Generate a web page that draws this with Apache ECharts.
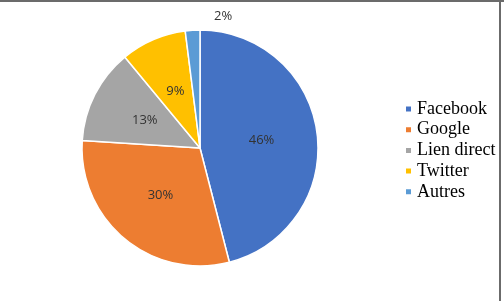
<!DOCTYPE html>
<html>
<head>
<meta charset="utf-8">
<script src="https://cdn.jsdelivr.net/npm/echarts@6/dist/echarts.min.js"></script>
<style>
html,body{margin:0;padding:0;background:#fff;}
#c{width:504px;height:301px;}
</style>
</head>
<body>
<div id="c"></div>
<script>
const categories = ['Facebook', 'Google', 'Lien direct', 'Twitter', 'Autres'];
const values = [46, 30, 13, 9, 2];
const colors = ['#4472C4', '#ED7D31', '#A5A5A5', '#FFC000', '#5B9BD5'];

const chart = echarts.init(document.getElementById('c'), null, {renderer: 'canvas'});
const data = categories.map((name, i) => {
  const d = {name: name, value: values[i], itemStyle: {color: colors[i]}};
  if (i === 4) {
    d.label = {position: 'outside', distance: 4};
    d.labelLine = {show: false, length: 6, length2: 0};
  }
  return d;
});
chart.setOption({
  animation: false,
  backgroundColor: '#fff',
  graphic: [
    {type: 'line', shape: {x1: 0, y1: 1, x2: 504, y2: 1}, style: {stroke: '#6b6b6b', lineWidth: 2}},
    {type: 'line', shape: {x1: 500, y1: 0, x2: 500, y2: 301}, style: {stroke: '#6b6b6b', lineWidth: 2}}
  ],
  legend: {
    orient: 'vertical',
    left: 404,
    top: 100,
    padding: 0,
    itemWidth: 7,
    itemHeight: 7,
    itemGap: 2.7,
    icon: 'rect',
    data: categories,
    textStyle: {fontFamily: 'Liberation Serif', fontSize: 18, color: '#000', padding: [0, 0, 0, 0]}
  },
  series: [{
    type: 'pie',
    center: [200, 148],
    radius: [0, 118],
    startAngle: 90,
    clockwise: true,
    avoidLabelOverlap: false,
    itemStyle: {borderColor: '#fff', borderWidth: 1.5},
    label: {
      show: true,
      position: 'inside',
      formatter: '{c}%',
      fontFamily: 'Open Sans',
      fontSize: 13,
      color: '#333'
    },
    labelLayout: function (p) {
      if (p.dataIndex === 4) return {dx: 45, dy: -8};
    },
    emphasis: {disabled: true},
    data: data
  }]
});
</script>
</body>
</html>
